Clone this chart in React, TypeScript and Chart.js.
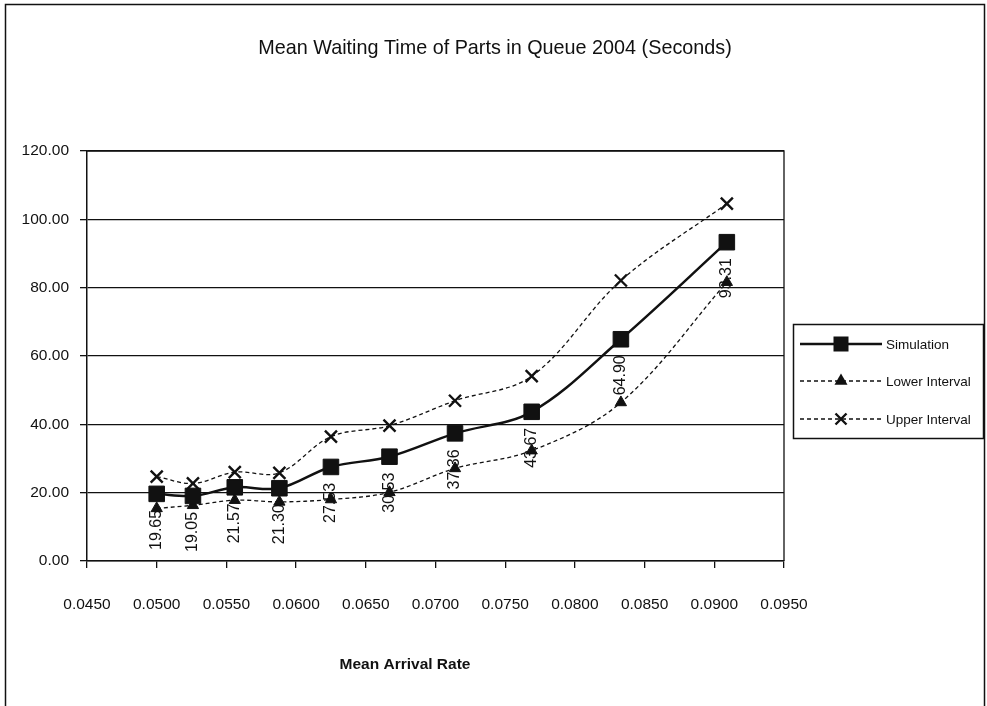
import { useEffect, useRef } from 'react';
import { Chart, registerables } from 'chart.js';

Chart.register(...registerables);

// Mean arrival rate (parts per second) and waiting time results (seconds)
const arrivalRates = [0.05, 0.0526, 0.0556, 0.0588, 0.0625, 0.0667, 0.0714, 0.0769, 0.0833, 0.0909];
const simulation = [19.65, 19.05, 21.57, 21.3, 27.53, 30.53, 37.36, 43.67, 64.9, 93.31];
const lowerInterval = [15.4, 16.3, 17.8, 17.3, 18.0, 20.1, 27.1, 32.3, 46.4, 81.6];
const upperInterval = [24.7, 22.7, 26.0, 25.8, 36.4, 39.6, 46.9, 54.1, 82.1, 104.6];

const seriesNames = ['Simulation', 'Lower Interval', 'Upper Interval'];
const chartTitle = 'Mean Waiting Time of Parts in Queue 2004 (Seconds)';
const xAxisTitle = 'Mean Arrival Rate';

const FONT = '"Liberation Sans", Arial, Helvetica, sans-serif';
const INK = '#111111';

const toPoints = (ys: number[]) => ys.map((y, i) => ({ x: arrivalRates[i], y }));

type MarkerKind = 'square' | 'triangle' | 'cross';

function drawMarker(ctx: CanvasRenderingContext2D, kind: MarkerKind, x: number, y: number, r: number) {
  ctx.save();
  ctx.fillStyle = INK;
  ctx.strokeStyle = INK;
  ctx.setLineDash([]);
  if (kind === 'square') {
    ctx.fillRect(x - r, y - r, 2 * r, 2 * r);
  } else if (kind === 'triangle') {
    ctx.beginPath();
    ctx.moveTo(x, y - r);
    ctx.lineTo(x + r * 0.87, y + r * 0.5);
    ctx.lineTo(x - r * 0.87, y + r * 0.5);
    ctx.closePath();
    ctx.fill();
  } else {
    ctx.lineWidth = 2.4;
    ctx.beginPath();
    ctx.moveTo(x - r, y - r);
    ctx.lineTo(x + r, y + r);
    ctx.moveTo(x + r, y - r);
    ctx.lineTo(x - r, y + r);
    ctx.stroke();
  }
  ctx.restore();
}

// Frame, title, axis title and legend box drawn around the plot
const decorations = {
  id: 'decorations',
  beforeDraw(chart: Chart) {
    const ctx = chart.ctx;
    ctx.save();
    ctx.fillStyle = '#ffffff';
    ctx.fillRect(0, 0, chart.width, chart.height);
    ctx.restore();
  },
  beforeDatasetsDraw(chart: Chart) {
    // value labels under the simulation points
    const ctx = chart.ctx;
    const meta = chart.getDatasetMeta(0);
    ctx.save();
    ctx.fillStyle = INK;
    ctx.font = `16px ${FONT}`;
    ctx.textAlign = 'right';
    ctx.textBaseline = 'middle';
    meta.data.forEach((pt: any, i: number) => {
      ctx.save();
      ctx.translate(pt.x, pt.y + 16);
      ctx.rotate(-Math.PI / 2);
      ctx.fillText(simulation[i].toFixed(2), 0, 0);
      ctx.restore();
    });
    ctx.restore();
  },
  afterDraw(chart: Chart) {
    const ctx = chart.ctx;
    const area = chart.chartArea;
    ctx.save();

    // outer frame
    ctx.strokeStyle = INK;
    ctx.lineWidth = 1.5;
    ctx.strokeRect(5.5, 4.5, 979, 720);

    // plot border (top and right sides)
    ctx.lineWidth = 1.3;
    ctx.beginPath();
    ctx.moveTo(area.left, area.top);
    ctx.lineTo(area.right, area.top);
    ctx.lineTo(area.right, area.bottom);
    ctx.stroke();

    // title
    ctx.fillStyle = INK;
    ctx.textAlign = 'center';
    ctx.textBaseline = 'middle';
    ctx.font = `19.8px ${FONT}`;
    ctx.fillText(chartTitle, 495, 49);

    // x axis title
    ctx.font = `bold 15.5px ${FONT}`;
    ctx.fillText(xAxisTitle, 405, 665);

    // legend
    const lx = 793;
    const ly = 324;
    ctx.lineWidth = 1.5;
    ctx.strokeRect(lx + 0.5, ly + 0.5, 190, 114);
    const rows = [344, 381, 419];
    const kinds: MarkerKind[] = ['square', 'triangle', 'cross'];
    rows.forEach((ry, i) => {
      ctx.save();
      ctx.strokeStyle = INK;
      if (i === 0) {
        ctx.lineWidth = 2.4;
        ctx.setLineDash([]);
      } else {
        ctx.lineWidth = 1.3;
        ctx.setLineDash([4, 3]);
      }
      ctx.beginPath();
      ctx.moveTo(800, ry);
      ctx.lineTo(882, ry);
      ctx.stroke();
      ctx.restore();
      drawMarker(ctx, kinds[i], 841, ry, i === 0 ? 7.5 : i === 1 ? 7.5 : 5.5);
      ctx.fillStyle = INK;
      ctx.textAlign = 'left';
      ctx.textBaseline = 'middle';
      ctx.font = `13.5px ${FONT}`;
      ctx.fillText(seriesNames[i], 886, ry + 1);
    });

    ctx.restore();
  },
};

export default function App() {
  const canvasRef = useRef<HTMLCanvasElement | null>(null);

  useEffect(() => {
    const canvas = canvasRef.current;
    if (!canvas) return;
    Chart.defaults.font.family = FONT;
    Chart.defaults.color = INK;

    const chart = new Chart(canvas, {
      type: 'line',
      data: {
        datasets: [
          {
            label: seriesNames[0],
            data: toPoints(simulation),
            borderColor: INK,
            backgroundColor: INK,
            borderWidth: 2.5,
            tension: 0.35,
            pointStyle: 'rect',
            pointRadius: 11,
            pointBorderWidth: 1,
            pointBackgroundColor: INK,
            pointBorderColor: INK,
          },
          {
            label: seriesNames[1],
            data: toPoints(lowerInterval),
            borderColor: INK,
            backgroundColor: INK,
            borderWidth: 1.3,
            borderDash: [4, 3],
            tension: 0.35,
            pointStyle: 'triangle',
            pointRadius: 6.5,
            pointBorderWidth: 1,
            pointBackgroundColor: INK,
            pointBorderColor: INK,
          },
          {
            label: seriesNames[2],
            data: toPoints(upperInterval),
            borderColor: INK,
            backgroundColor: INK,
            borderWidth: 1.3,
            borderDash: [4, 3],
            tension: 0.35,
            pointStyle: 'crossRot',
            pointRadius: 8.5,
            pointBorderWidth: 2.4,
            pointBackgroundColor: INK,
            pointBorderColor: INK,
          },
        ],
      },
      options: {
        responsive: false,
        animation: false,
        devicePixelRatio: 1,
        layout: { padding: { left: 0, top: 151, right: 203, bottom: 0 } },
        plugins: {
          legend: { display: false },
          title: { display: false },
          tooltip: { enabled: false },
        },
        scales: {
          x: {
            type: 'linear',
            min: 0.045,
            max: 0.095,
            afterFit: (scale: any) => {
              scale.height = 145;
            },
            ticks: {
              stepSize: 0.005,
              autoSkip: false,
              maxRotation: 0,
              padding: 27,
              color: INK,
              font: { size: 15.5 },
              callback: (v: any) => Number(v).toFixed(4),
            },
            grid: {
              drawOnChartArea: false,
              drawTicks: true,
              tickLength: 7,
              color: INK,
              lineWidth: 1.3,
            },
            border: { display: true, color: INK, width: 1.5 },
          },
          y: {
            min: 0,
            max: 120,
            afterFit: (scale: any) => {
              scale.width = 87;
            },
            ticks: {
              stepSize: 20,
              padding: 11,
              color: INK,
              font: { size: 15.5 },
              callback: (v: any) => Number(v).toFixed(2),
            },
            grid: {
              color: INK,
              lineWidth: 1.3,
              drawTicks: true,
              tickLength: 7,
            },
            border: { display: true, color: INK, width: 1.5 },
          },
        },
      },
      plugins: [decorations],
    });

    return () => {
      chart.destroy();
    };
  }, []);

  return (
    <div style={{ position: 'fixed', left: 0, top: 0, width: 987, height: 706, background: '#ffffff' }}>
      <canvas ref={canvasRef} width={987} height={706} />
    </div>
  );
}
